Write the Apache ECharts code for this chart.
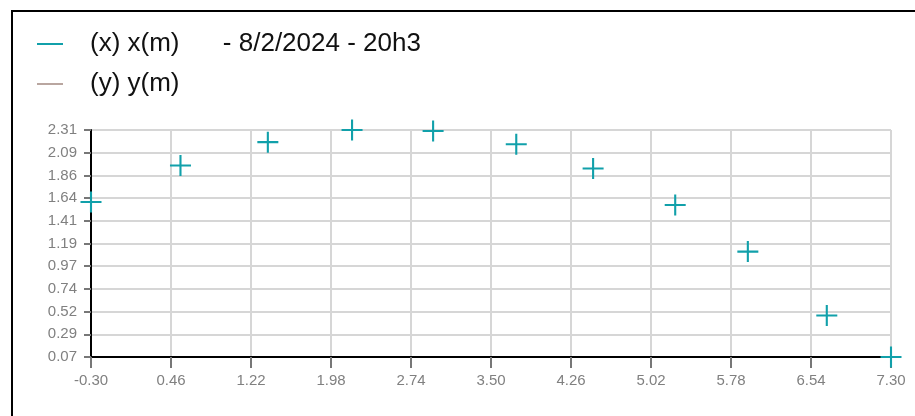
<!DOCTYPE html>
<html>
<head>
<meta charset="utf-8">
<script src="https://cdn.jsdelivr.net/npm/echarts@6/dist/echarts.min.js"></script>
<style>
  html, body { margin: 0; padding: 0; background: #fff; }
  #chart { width: 915px; height: 416px; }
</style>
</head>
<body>
<div id="chart"></div>
<script>
// Measured trajectory: horizontal position x(m) and height y(m)
const xValues = [-0.30, 0.55, 1.38, 2.18, 2.95, 3.74, 4.47, 5.25, 5.94, 6.69, 7.30];
const yValues = [1.60, 1.96, 2.19, 2.31, 2.30, 2.17, 1.93, 1.57, 1.11, 0.48, 0.07];

// Axis tick positions (labels shown with two decimals)
const xTicks = [-0.30, 0.46, 1.22, 1.98, 2.74, 3.50, 4.26, 5.02, 5.78, 6.54, 7.30];
const yTicks = [0.07, 0.294, 0.518, 0.742, 0.966, 1.19, 1.414, 1.638, 1.862, 2.086, 2.31];

// Legend entries
const seriesNames = ['(x) x(m)      - 8/2/2024 - 20h3', '(y) y(m)'];
const seriesColors = ['#11a0aa', '#a89088'];

const points = xValues.map((x, i) => [x, yValues[i]]);

const plusPath = 'path://M0,9L20,9L20,11L0,11Z M9,0L11,0L11,20L9,20Z';
const font = '"Liberation Sans", Arial, sans-serif';

const chart = echarts.init(document.getElementById('chart'), null, { renderer: 'canvas' });

chart.setOption({
  animation: false,
  backgroundColor: '#fff',
  color: seriesColors,
  graphic: [{
    type: 'rect',
    shape: { x: 12, y: 11, width: 1000, height: 600 },
    style: { fill: 'none', stroke: '#000', lineWidth: 2 },
    silent: true
  }],
  legend: {
    orient: 'vertical',
    left: 32,
    top: 24,
    itemWidth: 26,
    itemHeight: 2,
    itemGap: 10,
    icon: 'rect',
    textStyle: {
      fontFamily: font,
      fontSize: 26,
      color: '#111',
      lineHeight: 30,
      padding: [0, 0, 0, 22]
    },
    data: seriesNames.map((n, i) => ({ name: n, itemStyle: { color: seriesColors[i] } }))
  },
  grid: { left: 91, right: 24, top: 130, bottom: 59, containLabel: false },
  xAxis: {
    type: 'value',
    min: xTicks[0],
    max: xTicks[xTicks.length - 1],
    axisLine: { show: true, onZero: false, lineStyle: { color: '#000', width: 2 } },
    axisTick: { show: true, length: 11, customValues: xTicks, lineStyle: { color: '#777', width: 2 } },
    axisLabel: {
      customValues: xTicks,
      margin: 16,
      fontFamily: font,
      fontSize: 15,
      color: '#808080',
      formatter: v => v.toFixed(2)
    },
    splitLine: { show: true, lineStyle: { color: '#d6d6d6', width: 2 } }
  },
  yAxis: {
    type: 'value',
    min: yTicks[0],
    max: yTicks[yTicks.length - 1],
    axisLine: { show: true, onZero: false, lineStyle: { color: '#000', width: 2 } },
    axisTick: { show: true, length: 7, customValues: yTicks, lineStyle: { color: '#777', width: 2 } },
    axisLabel: {
      customValues: yTicks,
      margin: 14,
      fontFamily: font,
      fontSize: 15,
      color: '#808080',
      formatter: v => v.toFixed(2)
    },
    splitLine: { show: true, lineStyle: { color: '#d6d6d6', width: 2 } }
  },
  series: [
    {
      name: seriesNames[0],
      type: 'scatter',
      data: points,
      symbol: plusPath,
      symbolSize: 21,
      clip: false,
      itemStyle: { color: seriesColors[0], opacity: 1 },
      z: 5
    },
    {
      name: seriesNames[1],
      type: 'scatter',
      data: [],
      itemStyle: { color: seriesColors[1] }
    }
  ]
});
</script>
</body>
</html>
